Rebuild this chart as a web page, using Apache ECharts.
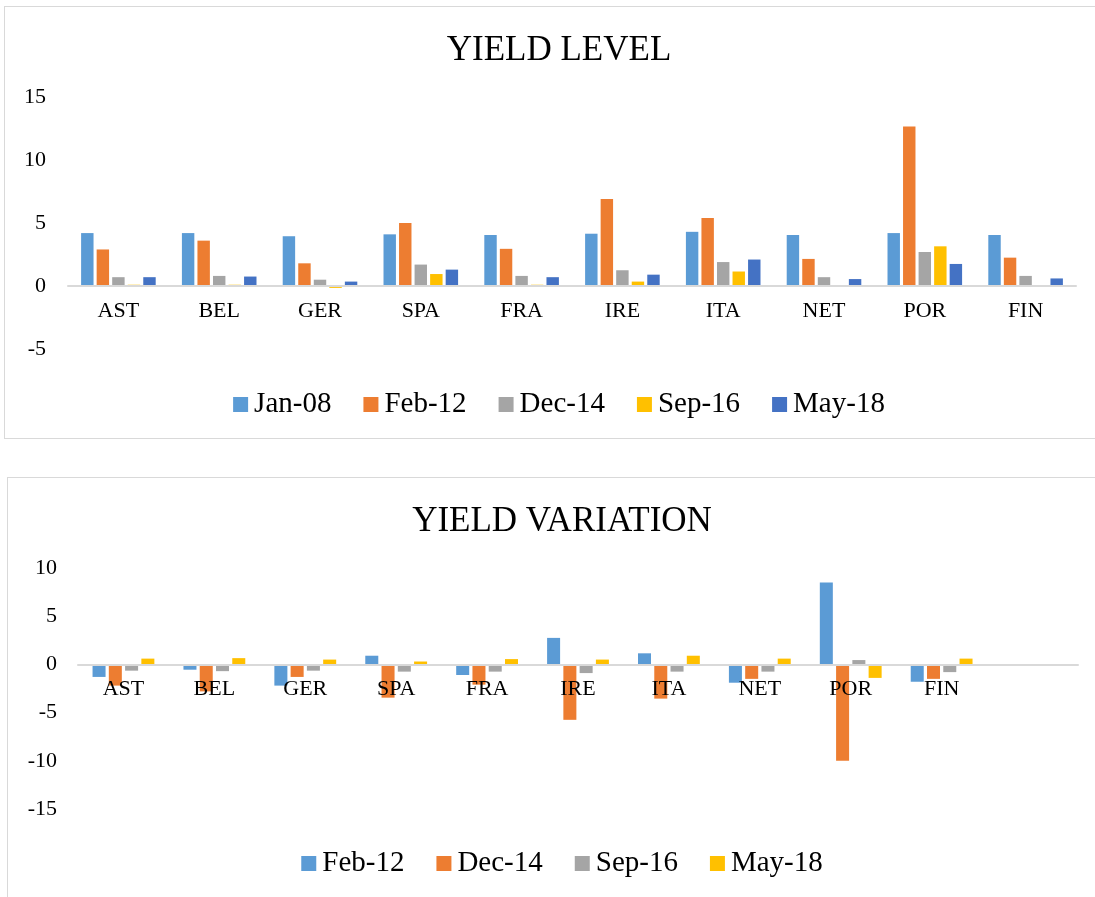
<!DOCTYPE html>
<html>
<head>
<meta charset="utf-8">
<title>Yield</title>
<script src="https://cdn.jsdelivr.net/npm/echarts@6/dist/echarts.min.js"></script>
<style>
  html, body {
    margin: 0;
    padding: 0;
    background: #fff;
    overflow: hidden;
  }
  .box {
    position: absolute;
    box-sizing: border-box;
    border: 1px solid #d9d9d9;
    background: #fff;
  }
  #main1 {
    left: 4px;
    top: 6px;
    width: 1110px;
    height: 433px;
  }
  #main2 {
    left: 7px;
    top: 477px;
    width: 1110px;
    height: 440px;
  }
</style>
</head>
<body>
<div id="main1" class="box"></div>
<div id="main2" class="box"></div>
<script>
// 国家
var countries = ["AST", "BEL", "GER", "SPA", "FRA", "IRE", "ITA", "NET", "POR", "FIN"];

// 收益率水平
var jan08 = [4.2, 4.2, 3.95, 4.1, 4.05, 4.15, 4.3, 4.05, 4.2, 4.05];
var feb12 = [2.9, 3.6, 1.8, 5.0, 2.95, 6.9, 5.4, 2.15, 12.65, 2.25];
var dec14 = [0.7, 0.8, 0.5, 1.7, 0.8, 1.25, 1.9, 0.7, 2.7, 0.8];
var sep16 = [0.1, 0.1, -0.15, 0.95, 0.1, 0.35, 1.15, 0, 3.15, 0];
var may18 = [0.7, 0.75, 0.35, 1.3, 0.7, 0.9, 2.1, 0.55, 1.75, 0.6];

// 收益率变化 (最后一个空类目)
var varCountries = ["AST", "BEL", "GER", "SPA", "FRA", "IRE", "ITA", "NET", "POR", "FIN", ""];
var varFeb12 = [-1.3, -0.55, -2.2, 0.9, -1.1, 2.75, 1.15, -1.9, 8.5, -1.8, null];
var varDec14 = [-2.2, -2.8, -1.3, -3.45, -2.1, -5.75, -3.55, -1.5, -10.0, -1.5, null];
var varSep16 = [-0.65, -0.7, -0.65, -0.75, -0.75, -0.9, -0.75, -0.75, 0.45, -0.8, null];
var varMay18 = [0.6, 0.65, 0.5, 0.3, 0.55, 0.5, 0.9, 0.6, -1.4, 0.6, null];

var yLevelTicks = [-5, 15, 5];
var yVarTicks = [-15, 10, 5];

var font = "Liberation Serif";

function barSeries (name, data) {
  return {
    name: name,
    type: "bar",
    barGap: "25%",
    data: data
  };
}

function baseOption (title, cats, ticks) {
  return {
    animation: false,
    textStyle: { fontFamily: font },
    title: {
      text: title,
      left: "center",
      top: 21,
      textStyle: {
        fontFamily: font,
        fontSize: 35,
        fontWeight: "normal",
        color: "#000"
      }
    },
    legend: {
      left: "center",
      icon: "rect",
      itemWidth: 15,
      itemHeight: 15,
      itemGap: 32,
      textStyle: {
        fontFamily: font,
        fontSize: 29,
        color: "#000",
        padding: [0, 0, 0, 1]
      }
    },
    xAxis: {
      type: "category",
      data: cats,
      z: 3,
      position: "bottom",
      axisTick: { show: false },
      axisLine: {
        onZero: false,
        lineStyle: { color: "#d9d9d9", width: 2 }
      },
      axisLabel: {
        fontFamily: font,
        fontSize: 22,
        color: "#000",
        margin: 14,
        interval: 0
      }
    },
    yAxis: {
      type: "value",
      min: ticks[0],
      max: ticks[1],
      interval: ticks[2],
      axisLine: { show: false },
      axisTick: { show: false },
      splitLine: { show: false },
      axisLabel: {
        fontFamily: font,
        fontSize: 22,
        color: "#000"
      }
    }
  };
}

// 图一: YIELD LEVEL
var chart1 = echarts.init(document.getElementById("main1"));
var opt1 = baseOption("YIELD LEVEL", countries, yLevelTicks);
opt1.color = ["#5b9bd5", "#ed7d31", "#a5a5a5", "#ffc000", "#4472c4"];
opt1.grid = { left: 63, top: 90, width: 1008, height: 252 };
opt1.legend.top = 378;
opt1.xAxis.offset = -63; // 轴线放到0的位置
opt1.yAxis.axisLabel.margin = 22;
opt1.series = [
  barSeries("Jan-08", jan08),
  barSeries("Feb-12", feb12),
  barSeries("Dec-14", dec14),
  barSeries("Sep-16", sep16),
  barSeries("May-18", may18)
];
opt1.series[0].barCategoryGap = "26%";
chart1.setOption(opt1);

// 图二: YIELD VARIATION
var chart2 = echarts.init(document.getElementById("main2"));
var opt2 = baseOption("YIELD VARIATION", varCountries, yVarTicks);
opt2.color = ["#5b9bd5", "#ed7d31", "#a5a5a5", "#ffc000"];
opt2.grid = { left: 70, top: 90, width: 1000, height: 241 };
opt2.legend.top = 366;
opt2.xAxis.offset = -144.6;
opt2.yAxis.axisLabel.margin = 21;
opt2.series = [
  barSeries("Feb-12", varFeb12),
  barSeries("Dec-14", varDec14),
  barSeries("Sep-16", varSep16),
  barSeries("May-18", varMay18)
];
opt2.series[0].barCategoryGap = "32%";
chart2.setOption(opt2);
</script>
</body>
</html>
